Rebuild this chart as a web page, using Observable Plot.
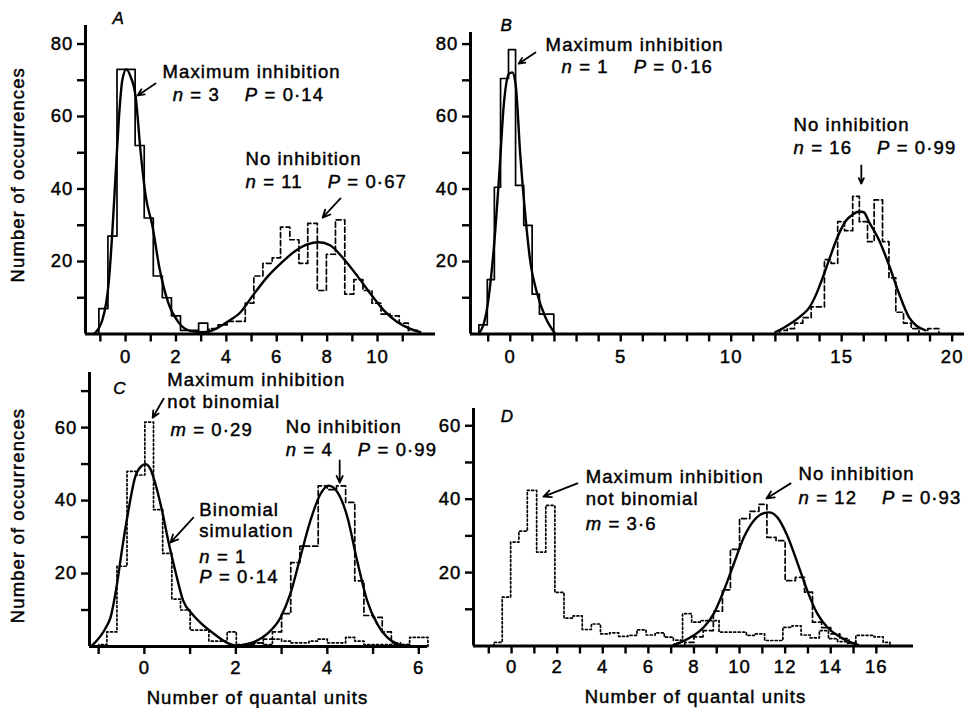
<!DOCTYPE html>
<html><head><meta charset="utf-8">
<script src="https://cdn.jsdelivr.net/npm/d3@7"></script>
<script src="https://cdn.jsdelivr.net/npm/@observablehq/plot@0.6"></script>
<style>
html,body{margin:0;padding:0;background:#fff;}
#chart{position:relative;width:966px;height:708px;overflow:hidden;background:#fff;}
#chart svg{position:absolute;left:0;top:0;}
#chart svg text{letter-spacing:1.1px;stroke:black;stroke-width:0.45px;}
</style></head><body><div id="chart"></div>
<script>
// ---------- Panel A ----------
const aMaxEdges = [-1.06,-0.70,-0.34,0.02,0.38,0.74,1.10,1.46,1.82,2.18,2.54,2.90,3.26];
const aMaxCounts = [7,27,73,73,52,32,16,10,5,1,1,3];
const aNoEdges = [3.31,3.67,4.03,4.39,4.75,5.09,5.45,5.82,6.15,6.52,6.88,7.23,7.61,7.97,8.33,8.70,9.06,9.42,9.78,10.14,10.50,10.86,11.22,11.58];
const aNoCounts = [1.5,2.5,3.5,3.5,8.5,16,19.5,21,29.5,26,19.5,30.5,12,22,31.5,11,15,12,8.5,5.5,5,3,1];
const aFit = [[-1.26,0],[-0.93,3.7],[-0.66,14.8],[-0.53,27.6],[-0.4,43.3],[-0.27,58.9],[-0.13,70],[0.03,73],[0.2,71],[0.4,65.5],[0.6,50],[0.8,38],[1.06,30],[1.35,18],[1.7,8.5],[2.1,3.2],[2.6,0.8],[3.1,0.5],[3.6,1.5],[4.03,3.3],[4.56,6],[5.09,11],[5.62,15.7],[6.15,19.4],[6.68,22.6],[7.21,24.7],[7.67,25.3],[8.13,24.4],[8.66,20.7],[9.19,16.1],[9.72,11.1],[10.25,6.5],[10.78,3.3],[11.31,1.4],[11.7,0.5]];
const aXTicks = [-1,0,1,2,3,4,5,6,7,8,9,10,11];
const aXLabels = [0,2,4,6,8,10];
const aYTicks = [10,20,30,40,50,60,70,80];
const aYLabels = [20,40,60,80];
const aNotes = [[1.47,70.5,"Maximum inhibition"],[1.87,64.4,"n = 3\u00a0\u00a0\u00a0\u00a0P = 0·14"],[4.76,46.5,"No inhibition"],[4.76,40.4,"n = 11\u00a0\u00a0\u00a0\u00a0P = 0·67"]];
const aArrows = [[1.19,69.1,0.48,65.8],[8.53,37.4,7.82,32.1]];

// ---------- Panel B ----------
const bMaxEdges = [-1.42,-1.04,-0.72,-0.44,-0.08,0.24,0.61,0.99,1.32,1.65,1.97];
const bMaxCounts = [2.5,15,40.5,70.5,78.5,41,30,11,5.5,5.5];
const bNoEdges = [12.19,12.54,12.87,13.24,13.62,13.92,14.22,14.52,14.82,15.13,15.5,15.8,16.17,16.47,16.85,17.14,17.45,17.8,18.15,18.5,18.9,19.4];
const bNoCounts = [1,1.5,3,4.5,7.5,7.5,20.5,19.5,31,28.5,38,31,25.5,37,25.5,15.5,6,3,1.5,0,1.5];
const bFitMax = [[-1.42,0],[-1.04,7.4],[-0.74,24],[-0.51,43],[-0.29,63.5],[-0.06,71.8],[0.09,72.2],[0.24,69],[0.46,48.8],[0.69,32.2],[0.92,19.4],[1.22,11.1],[1.59,4.6],[2.04,0]];
const bFitNo = [[12.0,0.5],[12.4,1.8],[12.79,3.3],[13.2,5.2],[13.55,7.4],[13.85,11],[14.15,15.7],[14.45,20.8],[14.75,25.8],[15.2,31.3],[15.5,33],[15.8,33.8],[16.0,33.6],[16.25,30.8],[16.7,25.8],[17.15,18.9],[17.6,11.1],[18.05,4.6],[18.4,2.2],[18.8,1]];
const bXTicks = [-1,0,1,2,3,4,5,6,7,8,9,10,11,12,13,14,15,16,17,18,19,20];
const bXLabels = [0,5,10,15,20];
const bYTicks = [10,20,30,40,50,60,70,80];
const bYLabels = [20,40,60,80];
const bNotes = [[1.60,78.2,"Maximum inhibition"],[2.32,72.1,"n = 1\u00a0\u00a0\u00a0\u00a0P = 0·16"],[12.82,56.1,"No inhibition"],[12.82,49.8,"n = 16\u00a0\u00a0\u00a0\u00a0P = 0·99"]];
const bArrows = [[1.14,77.7,0.38,74.6],[15.89,46.5,15.89,41.5]];

// ---------- Panel C ----------
const cMaxEdges = [-1.0,-0.82,-0.6,-0.38,-0.18,0.01,0.2,0.4,0.6,0.79,1.0,1.2,1.41,1.6,1.81,2.01,2.2,2.4,2.6,2.8,3.0,3.2,3.4,3.6,3.8,4.0,4.2,4.4,4.6,4.8,5.0,5.2,5.4,5.6,5.8,6.0,6.2];
const cMaxCounts = [0.5,4,22,48,47,61.5,37.5,25.5,13,10,4.5,4.5,1.5,1.5,4,0.5,0.5,1,0.5,2,1.5,1,1,1.5,2,1,1,2.5,1.5,0.5,0.5,0.5,0.5,0.5,2.5,2.5];
const cNoEdges = [2.2,2.4,2.6,2.8,3.0,3.2,3.4,3.6,3.8,4.0,4.2,4.4,4.6,4.8,5.0,5.2,5.4,5.6,5.8];
const cNoCounts = [0.5,1,2,4,9,23,27.5,27.5,44,43,44,39.5,18,8.5,8,4,1,0.5];
const cFitMax = [[-1.14,0.3],[-0.85,5],[-0.74,8],[-0.6,17],[-0.49,26.5],[-0.38,35],[-0.2,46.5],[-0.05,49.6],[0.02,50],[0.13,48.7],[0.24,44.6],[0.39,37],[0.53,28.5],[0.68,20.5],[0.85,12.5],[1.04,9],[1.23,6.5],[1.52,3.5],[1.81,1],[2.0,0.2]];
const cFitNo = [[2.0,0.2],[2.39,1.2],[2.69,3.5],[2.98,8],[3.19,14.4],[3.41,24.5],[3.63,34.5],[3.85,41.8],[4.03,44.1],[4.22,42.3],[4.44,35.4],[4.65,23.6],[4.87,12.6],[5.09,6.2],[5.31,2.5],[5.53,0.7],[5.68,0]];
const cXTicks = [-1,0,1,2,3,4,5,6];
const cXLabels = [0,2,4,6];
const cYTicks = [10,20,30,40,50,60,70];
const cYLabels = [20,40,60];
const cNotes = [[0.50,71.5,"Maximum inhibition"],[0.50,65.5,"not binomial"],[0.57,57.8,"m = 0·29"],[3.09,58.6,"No inhibition"],[3.09,52.3,"n = 4\u00a0\u00a0\u00a0\u00a0P = 0·99"],[1.20,35.9,"Binomial"],[1.20,29.9,"simulation"],[1.20,23.0,"n = 1"],[1.20,17.3,"P = 0·14"]];
const cArrows = [[0.42,67.9,0.18,62.7],[4.27,51,4.27,44.9],[1.07,35.3,0.57,28.5]];

// ---------- Panel D ----------
const dMaxEdges = [-0.78,-0.41,-0.04,0.32,0.69,1.1,1.5,1.9,2.3,2.7,3.1,3.5,3.9,4.3,4.7,5.1,5.5,5.9,6.3,6.7,7.1,7.5,7.9,8.3,8.7,9.1,9.5,9.9,10.3,10.7,11.1,11.5,11.9,12.3,12.7,13.1,13.5,13.9,14.3,14.7,15.1,15.5,15.9,16.3,16.6];
const dMaxCounts = [1,13.3,28.3,31.3,42.4,25.6,38.3,14.6,7.6,8.2,4.5,6,3.3,3.6,2.6,2.9,4.4,3,3.6,2.4,1.6,8.8,6.5,6.9,6.9,3.8,3.8,3.8,2.9,3.3,1.5,1.5,5.1,5.5,3,2.2,4.2,2,1.2,0.8,2.9,2.9,2.5,1];
const dNoEdges = [7.6,8.0,8.4,8.85,9.25,9.6,10.0,10.45,10.85,11.2,11.6,12.0,12.45,12.85,13.2,13.6,14.0,14.4,14.8,15.1];
const dNoCounts = [1,2.5,4.2,9.5,15.3,26.3,34.7,36.7,38.6,29.6,28.7,17.8,18.7,14.7,6.5,5,3.3,2,1];
const dFitNo = [[7.1,0.3],[7.41,1],[8.0,2.9],[8.43,5.1],[8.87,8.8],[9.31,15.1],[9.75,22.4],[10.19,29.6],[10.63,34.2],[11.07,36.2],[11.29,36.4],[11.65,35.1],[12.09,30.1],[12.53,22.8],[12.97,15.1],[13.41,8.8],[13.85,5.1],[14.43,2.4],[14.87,1],[15.2,0.3]];
const dXTicks = [-1,0,1,2,3,4,5,6,7,8,9,10,11,12,13,14,15,16];
const dXLabels = [0,2,4,6,8,10,12,14,16];
const dYTicks = [10,20,30,40,50,60];
const dYLabels = [20,40,60];
const dNotes = [[3.25,44.3,"Maximum inhibition"],[3.25,38.3,"not binomial"],[3.25,31.5,"m = 3·6"],[12.59,45.1,"No inhibition"],[12.59,38.8,"n = 12\u00a0\u00a0\u00a0\u00a0P = 0·93"]];
const dArrows = [[2.89,44.3,1.40,40.7],[12.24,44.3,11.18,40.2]];

const yTitle = "Number of occurrences";
const xTitle = "Number of quantal units";

// ---------- helpers ----------
const FONT = "'Liberation Sans', Arial, Helvetica, sans-serif";
const FS = 18.5;
const DASH = "5,3";
const DOT = "2,2.4";

function steps(edges, counts) {
  const pts = [{x: edges[0], y: 0}];
  counts.forEach((c, i) => pts.push({x: edges[i], y: c}));
  pts.push({x: edges[edges.length - 1], y: 0});
  return pts;
}
const pairs = (arr) => arr.map(([x, y]) => ({x, y}));

function italicize(svg) {
  const NS = "http://www.w3.org/2000/svg";
  svg.querySelectorAll("text").forEach(t => {
    if (t.querySelector("tspan")) return;
    const s = t.textContent;
    const re = /(^|[\s\u00a0])([nPm])(?= =)/g;
    if (!re.test(s)) return;
    re.lastIndex = 0;
    t.textContent = "";
    const add = (str, it) => {
      const ts = document.createElementNS(NS, "tspan");
      ts.textContent = str;
      if (it) ts.setAttribute("font-style", "italic");
      t.appendChild(ts);
    };
    let last = 0, m;
    while ((m = re.exec(s))) {
      const st = m.index + m[1].length;
      if (st > last) add(s.slice(last, st), false);
      add(m[2], true);
      last = st + 1;
    }
    if (last < s.length) add(s.slice(last), false);
  });
}

function panel(cfg) {
  const W = 966, H = 708;
  const marks = [];
  for (const h of cfg.hists) {
    marks.push(Plot.line(steps(h.edges, h.counts), {x: "x", y: "y", curve: "step-after", stroke: "black", strokeWidth: 1.7, strokeDasharray: h.dash || null}));
  }
  for (const f of cfg.fits) {
    marks.push(Plot.line(pairs(f), {x: "x", y: "y", curve: "monotone-x", stroke: "black", strokeWidth: 2.4}));
  }
  marks.push(Plot.ruleY([0], {stroke: "black", strokeWidth: 3}));
  marks.push(Plot.ruleX([cfg.xDomain[0]], {stroke: "black", strokeWidth: 3}));
  marks.push(Plot.axisX(cfg.xTicks, {tickSize: 8, tickPadding: cfg.xPad, strokeWidth: 2.4, label: null, fontSize: FS,
    tickFormat: d => cfg.xLabels.includes(d) ? String(d) : ""}));
  marks.push(Plot.axisY(cfg.yTicks, {tickSize: 8, tickPadding: 4, strokeWidth: 2.4, label: null, fontSize: FS,
    tickFormat: d => cfg.yLabels.includes(d) ? String(d) : ""}));
  marks.push(Plot.text(cfg.notes, {x: d => d[0], y: d => d[1], text: d => d[2], textAnchor: "start", lineAnchor: "bottom", fontSize: FS, fill: "black"}));
  marks.push(Plot.arrow(cfg.arrows, {x1: d => d[0], y1: d => d[1], x2: d => d[2], y2: d => d[3], stroke: "black", strokeWidth: 1.8, headLength: 7, headAngle: 50}));
  marks.push(Plot.text([cfg.letter], {x: cfg.letterPos[0], y: cfg.letterPos[1], textAnchor: "start", lineAnchor: "bottom", fontSize: 17, fontStyle: "italic", fill: "black"}));
  if (cfg.yTitle) marks.push(Plot.text([yTitle], {frameAnchor: "left", textAnchor: "middle", dx: cfg.yTitleDx, dy: cfg.yTitleDy, rotate: -90, fontSize: FS, fill: "black"}));
  if (cfg.xTitle) marks.push(Plot.text([xTitle], {frameAnchor: "bottom", textAnchor: "middle", dx: cfg.xTitleDx, dy: cfg.xTitleDy, lineAnchor: "bottom", fontSize: FS, fill: "black"}));
  const svg = Plot.plot({
    width: W, height: H,
    marginLeft: cfg.frame[0], marginRight: W - cfg.frame[1],
    marginTop: cfg.frame[2], marginBottom: H - cfg.frame[3],
    x: {domain: cfg.xDomain, axis: null},
    y: {domain: cfg.yDomain, axis: null},
    style: {fontFamily: FONT, fontSize: FS + "px", background: "transparent", overflow: "visible", color: "black"},
    marks
  });
  italicize(svg);
  document.getElementById("chart").appendChild(svg);
}

panel({
  frame: [85, 435, 25, 333.5], xDomain: [-1.59, 12.3], yDomain: [0, 85.1],
  hists: [{edges: aMaxEdges, counts: aMaxCounts}, {edges: aNoEdges, counts: aNoCounts, dash: DASH}],
  fits: [aFit], xTicks: aXTicks, xLabels: aXLabels, yTicks: aYTicks, yLabels: aYLabels, xPad: 8,
  notes: aNotes, arrows: aArrows, letter: "A", letterPos: [-0.52, 85.65],
  yTitle: true, yTitleDx: -67, yTitleDy: -5
});
panel({
  frame: [470, 964, 32, 333.5], xDomain: [-1.8, 20.56], yDomain: [0, 83.2],
  hists: [{edges: bMaxEdges, counts: bMaxCounts}, {edges: bNoEdges, counts: bNoCounts, dash: DASH}],
  fits: [bFitMax, bFitNo], xTicks: bXTicks, xLabels: bXLabels, yTicks: bYTicks, yLabels: bYLabels, xPad: 8,
  notes: bNotes, arrows: bArrows, letter: "B", letterPos: [-0.44, 83.7]
});
panel({
  frame: [89, 427, 372, 646], xDomain: [-1.2, 6.19], yDomain: [0, 75.1],
  hists: [{edges: cMaxEdges, counts: cMaxCounts, dash: DOT}, {edges: cNoEdges, counts: cNoCounts, dash: DASH}],
  fits: [cFitMax, cFitNo], xTicks: cXTicks, xLabels: cXLabels, yTicks: cYTicks, yLabels: cYLabels, xPad: 6,
  notes: cNotes, arrows: cArrows, letter: "C", letterPos: [-0.68, 69.3],
  yTitle: true, yTitleDx: -71, yTitleDy: 6, xTitle: true, xTitleDx: -1, xTitleDy: 57
});
panel({
  frame: [473, 913, 408, 645.5], xDomain: [-1.67, 17.63], yDomain: [0, 64.7],
  hists: [{edges: dMaxEdges, counts: dMaxCounts, dash: DOT}, {edges: dNoEdges, counts: dNoCounts, dash: DASH}],
  fits: [dFitNo], xTicks: dXTicks, xLabels: dXLabels, yTicks: dYTicks, yLabels: dYLabels, xPad: 6,
  notes: dNotes, arrows: dArrows, letter: "D", letterPos: [-0.48, 60.9],
  xTitle: true, xTitleDx: 2, xTitleDy: 56.5
});
</script></body></html>
